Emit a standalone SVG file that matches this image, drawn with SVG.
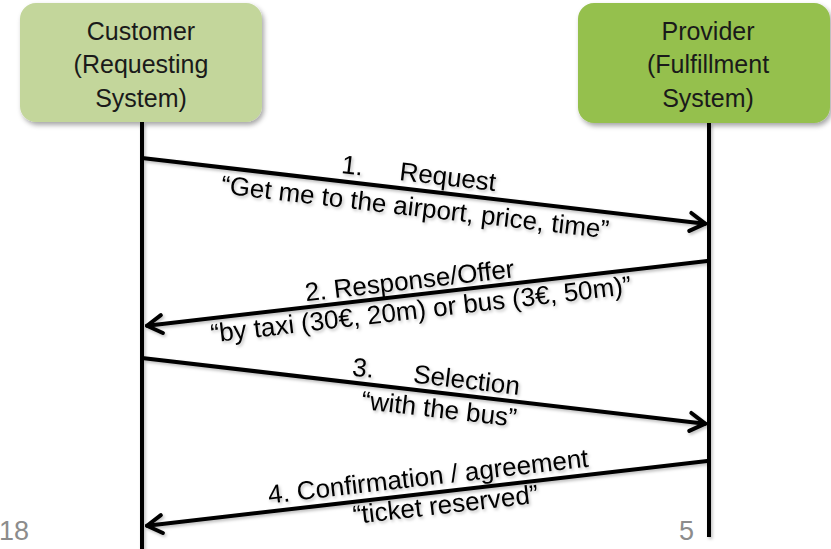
<svg xmlns="http://www.w3.org/2000/svg" width="831" height="549" viewBox="0 0 831 549">
  <style>
    .box-text { font-family: "Liberation Sans", Arial, sans-serif; font-size: 25px; fill: #1a1a1a; text-anchor: middle; }
    .msg { font-family: "Liberation Sans", Arial, sans-serif; font-size: 26px; fill: #000; text-anchor: middle; }
    .page { font-family: "Liberation Sans", Arial, sans-serif; font-size: 27px; fill: #8c8c8c; }
    .life { stroke: #000; stroke-width: 4; fill: none; }
    .arrow { stroke: #000; stroke-width: 4; fill: none; stroke-linecap: round; marker-end: url(#head); }
  </style>
  <defs>
    <filter id="shadow" x="-10%" y="-10%" width="130%" height="130%">
      <feDropShadow dx="2" dy="3" stdDeviation="2.5" flood-color="#000" flood-opacity="0.35"/>
    </filter>
    <filter id="lineShadow" x="-5%" y="-50%" width="110%" height="200%">
      <feDropShadow dx="1.5" dy="2" stdDeviation="1.5" flood-color="#000" flood-opacity="0.25"/>
    </filter>
    <marker id="head" markerUnits="userSpaceOnUse" viewBox="-20 -12 24 24" markerWidth="24" markerHeight="24" refX="0" refY="0" orient="auto">
      <path d="M-15,-9 L0,0 L-15,9" fill="none" stroke="#000" stroke-width="4" stroke-linecap="round" stroke-linejoin="round"/>
    </marker>
  </defs>

  <!-- participants -->
  <g id="customer">
    <rect x="20" y="3" width="242" height="119" rx="16" ry="16" fill="#c3d69b" filter="url(#shadow)"/>
    <text class="box-text" x="141" y="39.5">Customer</text>
    <text class="box-text" x="141" y="73">(Requesting</text>
    <text class="box-text" x="141" y="106.5">System)</text>
  </g>
  <g id="provider">
    <rect x="578" y="3" width="252" height="120" rx="16" ry="16" fill="#95c04d" filter="url(#shadow)"/>
    <text class="box-text" x="708" y="39.5">Provider</text>
    <text class="box-text" x="708" y="73">(Fulfillment</text>
    <text class="box-text" x="708" y="106.5">System)</text>
  </g>

  <!-- lifelines and messages -->
  <g id="connectors" filter="url(#lineShadow)">
    <line class="life" x1="142" y1="122" x2="142" y2="549"/>
    <line class="life" x1="709" y1="123" x2="709" y2="537"/>

    <!-- 1. request -->
    <g transform="translate(142,158) rotate(6.65)">
      <line class="arrow" x1="0" y1="0" x2="567" y2="0"/>
      <text class="msg" x="210" y="-8">1.</text>
      <text class="msg" x="306" y="-8">Request</text>
      <text class="msg" x="277" y="26">“Get me to the airport, price, time”</text>
    </g>

    <!-- 2. response / offer -->
    <g transform="translate(145,326) rotate(-6.59)">
      <line class="arrow" x1="566" y1="0" x2="2" y2="0"/>
      <text class="msg" x="268" y="-6">2. Response/Offer</text>
      <text class="msg" x="276" y="24">“by taxi (30€, 20m) or bus (3€, 50m)”</text>
    </g>

    <!-- 3. selection -->
    <g transform="translate(142,358) rotate(6.65)">
      <line class="arrow" x1="0" y1="0" x2="567" y2="0"/>
      <text class="msg" x="221" y="-7">3.</text>
      <text class="msg" x="325" y="-7">Selection</text>
      <text class="msg" x="301" y="25">“with the bus”</text>
    </g>

    <!-- 4. confirmation -->
    <g transform="translate(145,526) rotate(-6.59)">
      <line class="arrow" x1="566" y1="0" x2="2" y2="0"/>
      <text class="msg" x="287" y="-8">4. Confirmation / agreement</text>
      <text class="msg" x="301" y="22">“ticket reserved”</text>
    </g>
  </g>

  <!-- page numbers -->
  <text class="page" x="-1" y="540">18</text>
  <text class="page" x="679" y="540">5</text>
</svg>
